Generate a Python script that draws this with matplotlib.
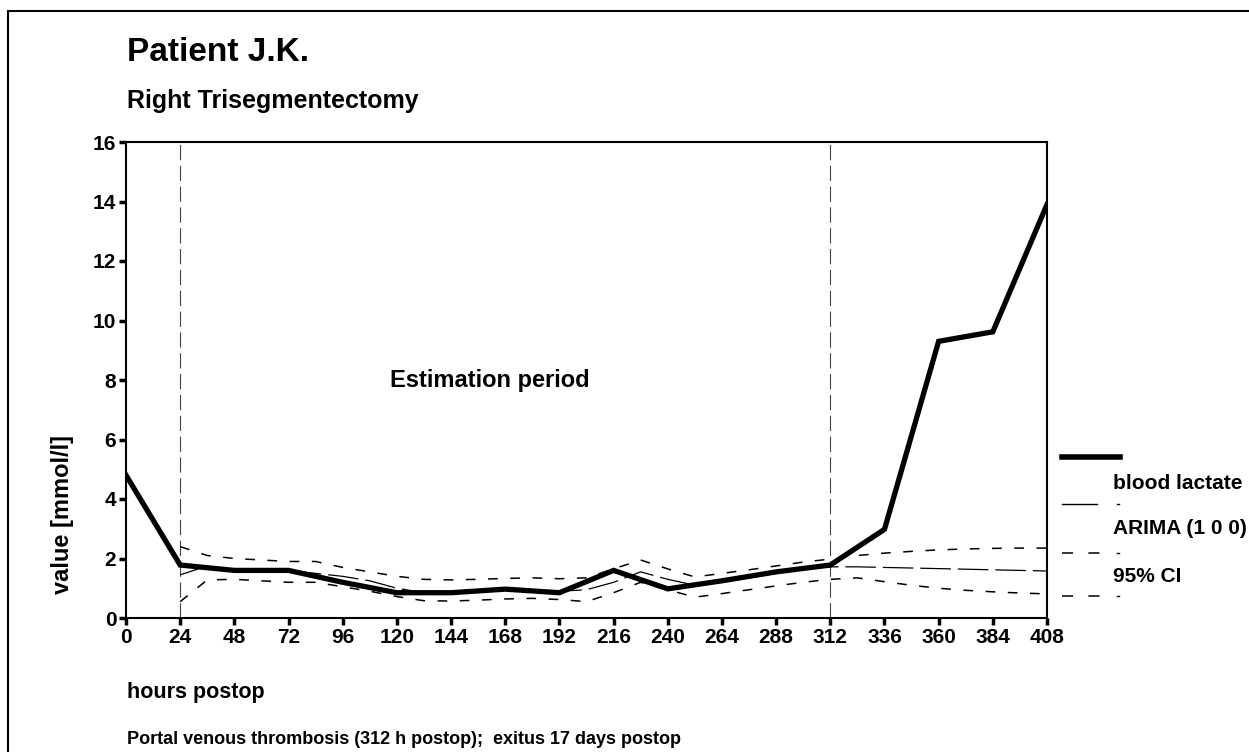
import matplotlib
matplotlib.use("Agg")
import matplotlib.pyplot as plt
from matplotlib.lines import Line2D
from matplotlib.patches import Rectangle

plt.rcParams['font.family'] = ['Liberation Sans', 'DejaVu Sans']
plt.rcParams['font.weight'] = 'bold'
plt.rcParams['lines.scale_dashes'] = False

# measured lactate values (every 24 h)
hours = [0, 24, 48, 72, 96, 120, 144, 168, 192, 216, 240, 264, 288, 312, 336, 360, 384, 408]
lactate = [4.8, 1.78, 1.6, 1.6, 1.2, 0.85, 0.85, 0.97, 0.85, 1.6, 0.98, 1.25, 1.55, 1.78, 2.98, 9.3, 9.62, 13.9]

# ARIMA (1 0 0) fit / forecast and 95% CI (every 12 h)
hours_fc = [24, 36, 48, 60, 72, 84, 96, 108, 120, 132, 144, 156, 168, 180, 192, 204, 216,
            228, 240, 252, 264, 276, 288, 300, 312, 324, 336, 348, 360, 372, 384, 396, 408]
arima = [1.45, 1.75, 1.62, 1.6, 1.6, 1.5, 1.4, 1.25, 1.0, 0.85, 0.85, 0.9, 0.95, 0.95, 0.9, 0.95, 1.2,
         1.55, 1.3, 1.1, 1.2, 1.35, 1.5, 1.65, 1.72, 1.72, 1.7, 1.68, 1.66, 1.64, 1.62, 1.6, 1.58]
ci_upper = [2.4, 2.1, 2.0, 1.95, 1.9, 1.9, 1.7, 1.55, 1.4, 1.3, 1.28, 1.3, 1.33, 1.35, 1.32, 1.35, 1.65,
            1.95, 1.65, 1.38, 1.5, 1.62, 1.75, 1.88, 1.98, 2.1, 2.18, 2.24, 2.29, 2.32, 2.34, 2.35, 2.35]
ci_lower = [0.55, 1.28, 1.3, 1.25, 1.2, 1.2, 1.05, 0.9, 0.72, 0.58, 0.57, 0.6, 0.64, 0.66, 0.62, 0.55, 0.85,
            1.2, 0.95, 0.7, 0.82, 0.95, 1.08, 1.2, 1.3, 1.35, 1.22, 1.1, 1.0, 0.93, 0.88, 0.84, 0.81]

period_bounds = [24, 312]
x_ticks = list(range(0, 409, 24))
y_ticks = list(range(0, 17, 2))

W, H = 1249, 752
fig = plt.figure(figsize=(W / 100, H / 100), dpi=100)


def fx(px):
    return px / W


def fy(py):
    return 1 - py / H


# frame round the whole figure (runs off right/bottom edge)
fig.patches.append(Rectangle((fx(8), -0.1), 1.2, fy(11) + 0.1, transform=fig.transFigure,
                             fill=False, edgecolor='black', linewidth=1.5))

ax = fig.add_axes([fx(126), fy(618), fx(1047) - fx(126), fy(142) - fy(618)])

for b in period_bounds:
    ax.axvline(b, color='#444444', linewidth=0.8, dashes=(11, 4))

ax.plot(hours_fc, ci_upper, color='black', linewidth=1.1, dashes=(7, 9))
ax.plot(hours_fc, ci_lower, color='black', linewidth=1.1, dashes=(7, 9))
ax.plot(hours_fc, arima, color='black', linewidth=0.9, dashes=(22, 5))
ax.plot(hours, lactate, color='black', linewidth=3.8, solid_joinstyle='miter')

ax.set_xlim(0, 408)
ax.set_ylim(0, 16)
ax.set_xticks(x_ticks)
ax.set_yticks(y_ticks)
ax.tick_params(direction='out', length=5, width=2.5, labelsize=15, pad=2)
for lab in ax.get_xticklabels() + ax.get_yticklabels():
    lab.set_fontweight('bold')
for s in ax.spines.values():
    s.set_linewidth(1.5)

ax.text(117, 8, 'Estimation period', fontsize=17, fontweight='bold', ha='left', va='center')

# titles and notes
fig.text(fx(127), fy(61), 'Patient J.K.', fontsize=24, fontweight='bold', va='baseline')
fig.text(fx(127), fy(108), 'Right Trisegmentectomy', fontsize=18, fontweight='bold', va='baseline')
fig.text(fx(127), fy(698), 'hours postop', fontsize=15.5, fontweight='bold', va='baseline')
fig.text(fx(127), fy(744), 'Portal venous thrombosis (312 h postop);  exitus 17 days postop',
         fontsize=13, fontweight='bold', va='baseline')
fig.text(fx(62), fy(515), 'value [mmol/l]', fontsize=17, fontweight='bold', rotation=90,
         ha='center', va='center')

# legend samples, label sits under each sample
leg_items = [
    (457, 'solid', 4.0, 1120),
    (504, 'solid', 1.0, 1097),
    (553, 'dash', 1.1, 1100),
    (596, 'dash', 1.1, 1100),
]
for y, style, lw, x_end in leg_items:
    if style == 'solid':
        ln = Line2D([fx(1062), fx(x_end)], [fy(y), fy(y)], transform=fig.transFigure,
                    color='black', linewidth=lw)
    else:
        ln = Line2D([fx(1062), fx(x_end)], [fy(y), fy(y)], transform=fig.transFigure,
                    color='black', linewidth=lw, dashes=(8, 11))
    fig.lines.append(ln)
    if lw < 2:
        fig.lines.append(Line2D([fx(1117), fx(1119)], [fy(y), fy(y)], transform=fig.transFigure,
                                color='black', linewidth=1.0))

fig.text(fx(1113), fy(484), 'blood lactate', fontsize=15, fontweight='bold', va='center')
fig.text(fx(1113), fy(529), 'ARIMA (1 0 0)', fontsize=15, fontweight='bold', va='center')
fig.text(fx(1113), fy(576), '95% CI', fontsize=15, fontweight='bold', va='center')

fig.savefig('out.png', dpi=100)
